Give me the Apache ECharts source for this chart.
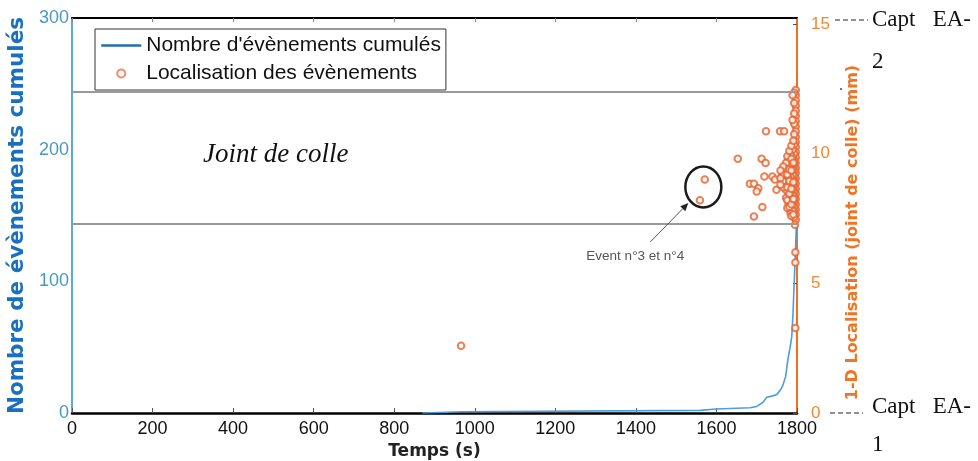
<!DOCTYPE html>
<html><head><meta charset="utf-8">
<script src="https://cdn.jsdelivr.net/npm/echarts@6/dist/echarts.min.js"></script>
<style>html,body{margin:0;padding:0;background:#fff}#c{width:978px;height:461px}</style>
</head><body><div id="c"></div>
<script>
// ---- data ----
const timeTicks = [0, 200, 400, 600, 800, 1000, 1200, 1400, 1600, 1800];
const countTicks = [0, 100, 200, 300];
const posTicks = [0, 5, 10, 15];
const cumTime  = [870, 870, 968, 968, 1559, 1559, 1600, 1683, 1700, 1715, 1725, 1740, 1750, 1760, 1765, 1772, 1777, 1783, 1787, 1790, 1792, 1795, 1797, 1799];
const cumCount = [0,   1,   1,   2,   2,    3,    3,    4,    5,    8,    12,   13,   14,   18,   21,   28,   40,   50,   58,   75,   91,   114,  130,  148];
const locTime = [
  966, 1571, 1559,
  1653, 1712, 1722, 1719, 1683, 1693, 1704, 1700, 1714, 1693, 1723, 1758, 1768, 1739, 1745, 1749,
  1763, 1773, 1777, 1782, 1778, 1783, 1784, 1785, 1788, 1792,
  1797,1797,1797,1797,1797,1797,1797,1797,1797,1797,1797,1797,1797,1797,1797,1797,1797,1797,1797,1797,1797,1797,1797,1797,1797,1797,
  1793,1793,1793,1793,1793,1793,1793,1793,1793,1793,1793,1793,1793,1793,1793,1793,1793,1793,1793,
  1789,1789,1789,1789,1789,1789,1789,1789,1789,1789,1789,1789,1789,1789,
  1784,1784,1784,1784,1784,1784,1784,1784,1784,1784,1784,
  1779,1779,1779,1779,1779,1779,1779,1779,
  1773,1773,1773,1773,1773,1773,
  1766,1766,1766,1766,
  1759,1759,1759,
  1776,1776,1776,1776,1776,
  1781,1781,1781,1781,1781,
  1786,1786,1786,1786,1786,1786,
  1791,1791,1791,1791,1791,
  1795, 1796, 1796, 1796
];
const locPos = [
  2.59, 9.0, 8.2,
  9.8, 9.8, 9.64, 9.12, 8.84, 8.84, 8.67, 8.54, 7.94, 7.58, 10.86, 10.86, 10.86, 9.12, 9.0, 8.61,
  9.16, 9.19, 9.3, 9.46, 8.61, 8.93, 8.16, 7.8, 8.42, 7.58,
  12.45,12.25,12.05,11.85,11.65,11.45,11.25,11.05,10.85,10.65,10.45,10.25,10.05,9.85,9.65,9.45,9.25,9.05,8.85,8.65,8.45,8.25,8.05,7.85,7.65,7.45,
  12.35,11.95,11.55,11.15,10.75,10.35,10.0,9.75,9.55,9.35,9.15,8.95,8.75,8.55,8.35,8.15,7.95,7.75,7.55,
  12.25,11.3,10.15,9.85,9.6,9.4,9.2,9.0,8.8,8.6,8.4,8.2,8.0,7.8,
  9.95,9.7,9.5,9.3,9.1,8.9,8.7,8.5,8.3,8.1,7.7,
  9.8,9.55,9.3,9.05,8.8,8.6,8.35,8.1,
  9.65,9.4,9.15,8.9,8.6,8.3,
  9.5,9.2,8.95,8.7,
  9.35,9.05,8.8,
  9.9,9.2,8.7,8.2,7.9,
  10.1,9.4,8.95,8.45,7.95,
  10.3,9.8,9.35,8.65,8.05,7.6,
  10.5,9.65,8.9,8.25,7.65,
  7.26, 6.2, 5.8, 3.28
];
const jointBounds = [12.39, 7.3];
const highlightedEvents = [[1571, 9.0], [1559, 8.2]];
const lineName = "Nombre d'évènements cumulés";
const scatterName = 'Localisation des évènements';

// ---- build ----
const cumData = cumTime.map((t, i) => [t, cumCount[i]]);
const locData = locTime.map((t, i) => [t, locPos[i]]);

const chart = echarts.init(document.getElementById('c'), null, {renderer: 'canvas'});
const sans = 'Liberation Sans, Arial, sans-serif';
const verd = 'DejaVu Sans, Verdana, sans-serif';
const serif = 'Liberation Serif, Times New Roman, serif';
const orange = '#e6602a';

chart.setOption({
  animation: false,
  backgroundColor: '#fff',
  grid: {left: 72, right: 181, top: 18, bottom: 48, outerBoundsMode: 'none'},
  legend: {
    orient: 'vertical', left: 95, top: 29,
    padding: [6, 5, 6, 5], itemGap: 7,
    itemWidth: 40, itemHeight: 8,
    borderColor: '#333', borderWidth: 1, backgroundColor: '#fff',
    textStyle: {fontSize: 21, fontFamily: sans, color: '#111'},
    data: [
      {name: lineName, itemStyle: {opacity: 0}, lineStyle: {color: '#1f6fb2', width: 2.5}},
      {name: scatterName, icon: 'emptyCircle', itemStyle: {color: '#e8704a', borderColor: '#e8704a', borderWidth: 1.1}}
    ]
  },
  xAxis: [{
    type: 'value', min: timeTicks[0], max: timeTicks[timeTicks.length - 1], interval: 200,
    name: 'Temps (s)', nameLocation: 'middle', nameGap: 29,
    nameTextStyle: {fontFamily: verd, fontWeight: 'bold', fontSize: 17, color: '#222'},
    axisLine: {onZero: false, lineStyle: {color: '#000', width: 2.5}},
    axisTick: {inside: true, length: 5, lineStyle: {color: '#555'}},
    axisLabel: {fontFamily: sans, fontSize: 18, color: '#111', margin: 7, formatter: v => String(v)},
    splitLine: {show: false}
  }, {
    type: 'value', position: 'top', min: 0, max: 1800, interval: 200,
    axisLine: {onZero: false, lineStyle: {color: '#000', width: 2}},
    axisTick: {inside: true, length: 4, lineStyle: {color: '#888'}},
    axisLabel: {show: false}, splitLine: {show: false}
  }],
  yAxis: [{
    type: 'value', position: 'left', min: 0, max: 300, interval: 100,
    name: 'Nombre de évènements cumulés', nameLocation: 'middle', nameGap: 40, nameRotate: 90,
    nameTextStyle: {fontFamily: verd, fontWeight: 'bold', fontSize: 21.5, color: '#1a70c0'},
    axisLine: {show: true, onZero: false, lineStyle: {color: '#5aaad8', width: 2}},
    axisTick: {show: false},
    axisLabel: {fontFamily: sans, fontSize: 18, color: '#4a98c0', margin: 3},
    splitLine: {show: false}
  }, {
    type: 'value', position: 'right', min: 0, max: 15.23, interval: 5,
    name: '1-D Localisation (joint de colle) (mm)', nameLocation: 'middle', nameGap: 48, nameRotate: 90,
    nameTextStyle: {fontFamily: verd, fontWeight: 'bold', fontSize: 16, color: '#f07424', padding: [0, 34, 0, 0]},
    axisLine: {show: true, onZero: false, lineStyle: {color: '#f07020', width: 2}},
    axisTick: {show: true, inside: true, length: 4, lineStyle: {color: '#555'}},
    axisLabel: {fontFamily: sans, fontSize: 17, color: '#f08a30', margin: 14, showMaxLabel: false},
    splitLine: {show: false}
  }],
  series: [{
    name: lineName, type: 'line', xAxisIndex: 0, yAxisIndex: 0,
    data: cumData, symbol: 'none', showSymbol: false,
    lineStyle: {color: '#4a9de0', width: 1.6}, itemStyle: {color: '#4a9de0'}, z: 3
  }, {
    name: scatterName, type: 'scatter', xAxisIndex: 0, yAxisIndex: 1,
    data: locData, symbol: 'emptyCircle', symbolSize: 6.5,
    itemStyle: {color: orange, borderColor: orange, borderWidth: 1, opacity: 0.8},
    z: 4,
    markLine: {
      silent: true, symbol: 'none', animation: false,
      label: {show: false},
      lineStyle: {color: '#9a9a9a', width: 2, type: 'solid', opacity: 1},
      data: jointBounds.map(v => ({yAxis: v}))
    }
  }]
});

// annotations
const p1 = chart.convertToPixel({xAxisIndex: 0, yAxisIndex: 1}, highlightedEvents[0]);
const p2 = chart.convertToPixel({xAxisIndex: 0, yAxisIndex: 1}, highlightedEvents[1]);
const cx = (p1[0] + p2[0]) / 2 + 1, cy = (p1[1] + p2[1]) / 2 - 3;
const tip = [cx - 15, cy + 16];
const tail = [cx - 53, cy + 55];
const ang = Math.atan2(tip[1] - tail[1], tip[0] - tail[0]);
const ah = 8, aw = 3.5;
const b = [tip[0] - ah * Math.cos(ang), tip[1] - ah * Math.sin(ang)];
const nx = -Math.sin(ang), ny = Math.cos(ang);

chart.setOption({
  graphic: [
    {type: 'ellipse', shape: {cx: cx, cy: cy, rx: 18, ry: 20.5}, style: {fill: 'none', stroke: '#1a1a1a', lineWidth: 2.5}, z: 10},
    {type: 'line', shape: {x1: tail[0], y1: tail[1], x2: b[0], y2: b[1]}, style: {stroke: '#555', lineWidth: 1}, z: 10},
    {type: 'polygon', shape: {points: [tip, [b[0] + nx * aw, b[1] + ny * aw], [b[0] - nx * aw, b[1] - ny * aw]]}, style: {fill: '#222'}, z: 10},
    {type: 'text', left: tail[0] - 64, top: tail[1] + 7, style: {text: 'Event n°3 et n°4', fontFamily: sans, fontSize: 13.5, fill: '#555'}, z: 10},
    {type: 'text', left: 203, top: 141, style: {text: 'Joint de colle', fontFamily: serif, fontStyle: 'italic', fontSize: 27, fill: '#111'}, z: 10},
    {type: 'line', shape: {x1: 835, y1: 20, x2: 868, y2: 20}, style: {stroke: '#222', lineWidth: 1, lineDash: [5, 3]}, z: 10},
    {type: 'text', left: 872, top: 8, style: {text: 'Capt   EA-', fontFamily: serif, fontSize: 23, fill: '#111'}, z: 10},
    {type: 'text', left: 872, top: 50, style: {text: '2', fontFamily: serif, fontSize: 23, fill: '#111'}, z: 10},
    {type: 'line', shape: {x1: 830, y1: 413, x2: 863, y2: 413}, style: {stroke: '#222', lineWidth: 1, lineDash: [5, 3]}, z: 10},
    {type: 'text', left: 872, top: 395, style: {text: 'Capt   EA-', fontFamily: serif, fontSize: 23, fill: '#111'}, z: 10},
    {type: 'text', left: 872, top: 433, style: {text: '1', fontFamily: serif, fontSize: 23, fill: '#111'}, z: 10},
    {type: 'circle', shape: {cx: 841, cy: 89, r: 1}, style: {fill: '#2244cc'}, z: 10}
  ]
});
</script>
</body></html>
